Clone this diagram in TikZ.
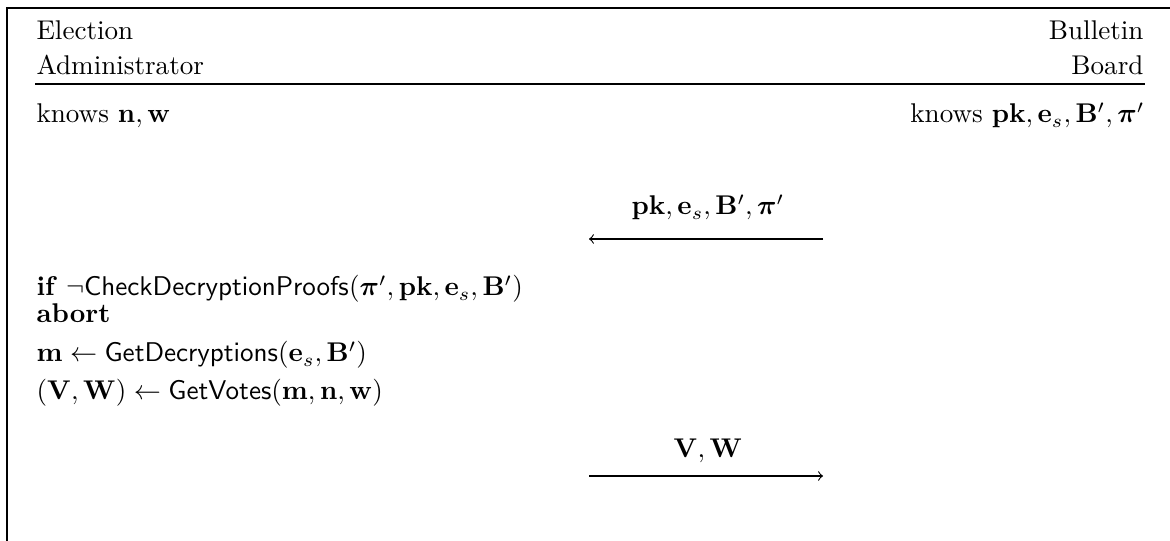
\documentclass[tikz,border=0pt]{standalone}
\usepackage{amsmath,amssymb}
\usetikzlibrary{positioning}
\begin{document}
\begin{tikzpicture}[x=0.369pt,y=-0.369pt,>=to,
	lft/.style={anchor=base west,inner sep=0pt},
	rgt/.style={anchor=base east,inner sep=0pt},
	msg/.style={anchor=base,inner sep=0pt}]
	\useasboundingbox (0,0) rectangle (1170,541);
	% frame (cut off at right and bottom)
	\draw (7,541) -- (7,8) -- (1170,8);
	% parties
	\node[lft] (elec) at (36,40) {Election};
	\node[lft] (admin) at (36,75) {Administrator};
	\node[rgt] (bull) at (1144,40) {Bulletin};
	\node[rgt] (board) at (1144,75) {Board};
	\coordinate (hl) at (35,84);
	\coordinate (hr) at (1145,84);
	\draw (hl) -- (hr);
	% knowledge
	\node[lft] (knowA) at (36,123) {knows $\mathbf{n},\mathbf{w}$};
	\node[rgt] (knowB) at (1145,123) {knows $\mathbf{pk},\mathbf{e}_s,\mathbf{B}',\boldsymbol{\pi}'$};
	% first message
	\node[msg] (msgA) at (708,215) {$\mathbf{pk},\mathbf{e}_s,\mathbf{B}',\boldsymbol{\pi}'$};
	\coordinate (aL) at (589,239);
	\coordinate (aR) at (823,239);
	\draw[->] (aR) -- (aL);
	% administrator steps
	\node[lft] (chk) at (36,296) {\textbf{if} $\neg\mathsf{CheckDecryptionProofs}(\boldsymbol{\pi}',\mathbf{pk},\mathbf{e}_s,\mathbf{B}')$};
	\node[lft] (abrt) at (36,323) {\textbf{abort}};
	\node[lft] (dec) at (36,362) {$\mathbf{m}\gets\mathsf{GetDecryptions}(\mathbf{e}_s,\mathbf{B}')$};
	\node[lft] (vts) at (36,400) {$(\mathbf{V},\mathbf{W})\gets\mathsf{GetVotes}(\mathbf{m},\mathbf{n},\mathbf{w})$};
	% second message
	\node[msg] (msgB) at (708,458) {$\mathbf{V},\mathbf{W}$};
	\coordinate (bL) at (589,476);
	\coordinate (bR) at (823,476);
	\draw[->] (bL) -- (bR);
\end{tikzpicture}
\end{document}
